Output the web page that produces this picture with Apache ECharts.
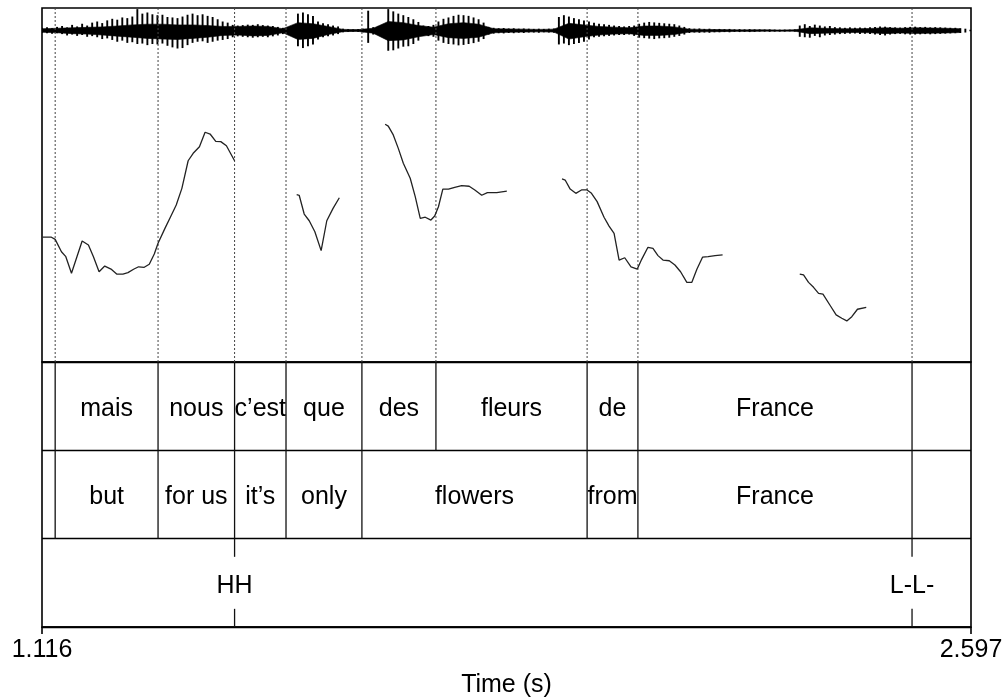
<!DOCTYPE html>
<html>
<head>
<meta charset="utf-8">
<script src="https://cdn.jsdelivr.net/npm/echarts@6/dist/echarts.min.js"></script>
<style>
  html, body { margin: 0; padding: 0; background: #fff; }
  #chart { width: 1006px; height: 699px; }
</style>
</head>
<body>
<div id="chart"></div>
<script>
// Time window of the utterance (s)
const timeMin = 1.116;
const timeMax = 2.597;

// Waveform envelope: peak amplitude (percent of full scale) every 8 ms
const waveStep = 0.008;
const waveHi = [
  12,14,10,16,20,14,25,18,30,22,
  35,40,33,45,52,48,58,55,62,95,
  75,80,72,68,70,60,58,55,62,70,
  75,68,72,65,60,50,40,35,25,22,
  24,26,25,28,24,22,20,16,12,10,
  14,75,80,72,65,40,32,28,22,18,
  8,6,5,6,8,88,15,18,20,95,
  85,75,68,60,50,38,22,20,25,40,
  52,58,65,70,68,65,58,50,35,16,
  12,10,11,9,10,8,9,8,7,8,
  7,8,9,60,68,62,55,50,45,40,
  35,30,28,25,22,20,18,20,22,30,
  35,38,36,34,32,30,28,22,16,10,
  8,9,7,8,6,7,6,7,5,6,
  5,6,5,5,4,5,4,4,4,4,
  5,22,28,20,26,22,18,20,15,14,
  12,14,12,13,12,14,16,18,17,15,
  14,13,15,16,17,15,16,14,15,14,
  13,12,12,10,8,3
];
const waveLo = [
  -10,-12,-14,-12,-16,-22,-18,-24,-20,-28,
  -25,-30,-38,-35,-42,-50,-45,-55,-52,-60,
  -58,-65,-60,-62,-58,-68,-75,-80,-78,-65,
  -55,-50,-48,-55,-50,-45,-42,-38,-30,-26,
  -28,-30,-32,-30,-28,-30,-26,-22,-16,-12,
  -18,-70,-78,-70,-62,-40,-30,-26,-22,-16,
  -8,-6,-5,-6,-8,-55,-18,-14,-22,-90,
  -88,-80,-72,-70,-60,-45,-22,-25,-28,-45,
  -55,-60,-62,-66,-64,-60,-56,-50,-38,-18,
  -14,-12,-13,-11,-12,-10,-11,-9,-9,-10,
  -8,-9,-10,-62,-58,-65,-60,-55,-50,-40,
  -30,-28,-26,-24,-22,-20,-20,-18,-24,-32,
  -34,-36,-38,-35,-34,-32,-28,-24,-18,-11,
  -9,-10,-9,-10,-8,-8,-7,-8,-6,-7,
  -6,-7,-6,-5,-5,-6,-5,-5,-5,-4,
  -5,-28,-30,-32,-24,-30,-22,-20,-18,-16,
  -15,-14,-13,-15,-14,-16,-18,-20,-22,-18,
  -16,-15,-17,-18,-18,-17,-16,-17,-16,-15,
  -14,-13,-12,-11,-9,-3
];

// Dense inner body of the waveform, every 24 ms
const coreStep = 0.024;
const coreHi = [
  8,10,12,14,16,20,25,28,28,25,
  25,22,18,18,20,18,8,35,30,18,
  5,4,10,40,35,22,15,30,35,28,
  8,7,6,5,6,32,25,18,15,12,
  20,20,16,6,5,4,3,3,3,2,
  3,12,10,8,8,9,12,10,12,11,
  10,8
];
const coreLo = [
  -8,-10,-14,-16,-20,-25,-30,-35,-38,-40,
  -35,-30,-22,-20,-24,-22,-10,-40,-35,-18,
  -5,-4,-12,-45,-42,-28,-18,-32,-35,-30,
  -10,-8,-7,-6,-7,-38,-28,-20,-16,-14,
  -22,-22,-18,-7,-6,-5,-4,-4,-3,-3,
  -3,-14,-12,-10,-9,-10,-14,-11,-13,-12,
  -11,-9
];

// F0 track (s, Hz); null separates voiced stretches
const pitchTime = [
  1.117,1.131,1.137,1.147,1.154,1.163,1.180,1.190,1.198,1.207,1.216,1.226,
  1.235,1.245,1.253,1.262,1.270,1.279,1.287,1.295,1.301,1.312,1.321,1.330,
  1.339,1.349,1.357,1.367,1.376,1.384,1.393,1.401,1.410,1.423,
  null,
  1.522,1.526,1.534,1.542,1.551,1.561,1.570,1.580,1.590,
  null,
  1.663,1.668,1.676,1.684,1.692,1.703,1.711,1.719,1.727,1.736,1.742,
  1.748,1.755,1.764,1.774,1.785,1.797,1.806,1.817,1.826,1.841,1.857,
  null,
  1.945,1.950,1.958,1.967,1.976,1.985,1.992,2.001,2.012,2.020,2.028,2.036,
  2.045,2.055,2.065,2.072,2.082,2.090,2.098,2.106,2.116,2.125,2.134,2.144,
  2.152,2.160,2.169,2.178,2.189,2.201,
  null,
  2.324,2.330,2.338,2.346,2.354,2.361,2.372,2.382,2.391,2.399,2.407,2.416,2.430
];
const pitchHz = [
  170.5,170.5,169.3,162.3,159.5,150.1,168.4,166.1,159.5,151.0,154.2,152.5,
  149.7,149.7,150.5,152.4,153.8,153.5,155.2,161.0,167.1,175.5,182.1,188.7,
  198.1,213.7,217.9,221.6,229.8,228.8,224.7,224.5,222.2,213.7,
  null,
  194.5,194.2,183.6,179.8,173.6,162.9,179.8,186.8,192.8,
  null,
  234.3,233.3,228.3,220.7,212.3,203.8,193.4,181.2,181.8,180.2,182.5,
  187.7,197.7,197.7,198.7,199.6,199.3,197.2,194.2,195.7,195.7,196.6,
  null,
  203.4,202.8,197.7,195.3,197.2,197.2,195.3,190.6,181.8,176.8,172.7,157.6,
  158.9,153.8,152.5,158.0,164.8,164.2,160.1,157.6,157.2,154.8,151.0,145.0,
  145.0,152.4,159.2,159.5,160.1,160.5,
  null,
  149.7,149.2,145.0,142.2,138.8,138.4,132.2,126.6,124.7,123.2,125.6,129.8,130.9
];
const pitchMin = 100;
const pitchMax = 300;

// TextGrid tier 1: words
const wordBounds = [1.137, 1.301, 1.423, 1.505, 1.626, 1.744, 1.985, 2.066, 2.503];
const words = ['', 'mais', 'nous', 'c\u2019est', 'que', 'des', 'fleurs', 'de', 'France', ''];

// TextGrid tier 2: gloss
const glossBounds = [1.137, 1.301, 1.423, 1.505, 1.626, 1.985, 2.066, 2.503];
const glosses = ['', 'but', 'for us', 'it\u2019s', 'only', 'flowers', 'from', 'France', ''];

// TextGrid tier 3: tones (point tier)
const toneTimes = [1.423, 2.503];
const toneLabels = ['HH', 'L-L-'];

// Axis tick labels
const timeTicks = [timeMin, timeMax];

const FONT = '"Liberation Sans", Arial, Helvetica, sans-serif';
const FONT_SIZE = 25;
const TEXT_DROP = 3;   // nudges tier labels down to sit optically centred

// ---- build series data ----
const spikeData = waveHi.map((h, i) => [timeMin + i * waveStep, h, waveLo[i]]);
const coreData = [];
for (let k = 0; k < coreHi.length - 1; k++) {
  coreData.push([timeMin + k * coreStep, coreHi[k], coreLo[k],
                 timeMin + (k + 1) * coreStep, coreHi[k + 1], coreLo[k + 1]]);
}

const pitchSeries = [];
let seg = [];
pitchTime.forEach((t, i) => {
  if (t === null) { pitchSeries.push(seg); seg = []; }
  else seg.push([t, pitchHz[i]]);
});
if (seg.length) pitchSeries.push(seg);

// interval tiers: tier index 2 = words (top), 1 = gloss, 0 = tones
function intervalLabels(bounds, labels, tier) {
  const edges = [timeMin].concat(bounds, [timeMax]);
  const out = [];
  labels.forEach((lab, i) => {
    if (lab) out.push({ value: [(edges[i] + edges[i + 1]) / 2, tier + 0.5], label: lab });
  });
  return out;
}
const textItems = intervalLabels(wordBounds, words, 2)
  .concat(intervalLabels(glossBounds, glosses, 1));

const boundaryData = wordBounds.map(t => [t, 2]).concat(glossBounds.map(t => [t, 1]));
const toneData = toneTimes.map(t => [t, 0]);

const chart = echarts.init(document.getElementById('chart'), null, { renderer: 'canvas' });

const hiddenX = (gridIndex) => ({
  type: 'value', gridIndex, min: timeMin, max: timeMax, show: false
});

const option = {
  animation: false,
  backgroundColor: '#fff',
  grid: [
    { left: 42, right: 35, top: 8, height: 45, show: false, outerBoundsMode: 'none' },
    { left: 42, right: 35, top: 8, height: 354, show: true, borderColor: '#000', borderWidth: 1.6, outerBoundsMode: 'none' },
    { left: 42, right: 35, top: 362, height: 265, show: true, borderColor: '#000', borderWidth: 1.6, outerBoundsMode: 'none' }
  ],
  xAxis: [
    hiddenX(0),
    hiddenX(1),
    {
      type: 'value', gridIndex: 2, min: timeMin, max: timeMax,
      splitLine: { show: false },
      axisLine: { show: true, onZero: false, lineStyle: { color: '#000', width: 1.6 } },
      axisTick: { show: true, inside: false, length: 7, customValues: timeTicks,
                  lineStyle: { color: '#000', width: 1.6 } },
      axisLabel: { show: true, customValues: timeTicks, margin: 11,
                   formatter: v => v.toFixed(3),
                   fontSize: FONT_SIZE, fontFamily: FONT, color: '#000',
                   showMinLabel: true, showMaxLabel: true },
      name: 'Time (s)', nameLocation: 'middle', nameGap: 46,
      nameTextStyle: { fontSize: FONT_SIZE, fontFamily: FONT, color: '#000' }
    }
  ],
  yAxis: [
    { type: 'value', gridIndex: 0, min: -100, max: 100, show: false },
    { type: 'value', gridIndex: 1, min: pitchMin, max: pitchMax, show: false },
    {
      type: 'value', gridIndex: 2, min: 0, max: 3, interval: 1,
      axisLine: { show: false }, axisTick: { show: false }, axisLabel: { show: false },
      splitLine: { show: true, lineStyle: { color: '#000', width: 1.4 } }
    }
  ],
  series: [
    // waveform body
    {
      type: 'custom', xAxisIndex: 0, yAxisIndex: 0, clip: true, silent: true,
      data: coreData,
      encode: { x: [0, 3], y: [1, 2, 4, 5] },
      renderItem(params, api) {
        const a = api.coord([api.value(0), api.value(1)]);
        const b = api.coord([api.value(3), api.value(4)]);
        const c = api.coord([api.value(3), api.value(5)]);
        const d = api.coord([api.value(0), api.value(2)]);
        return { type: 'polygon', shape: { points: [a, b, c, d] },
                 style: { fill: '#000', stroke: '#000', lineWidth: 0.6 } };
      }
    },
    // waveform peaks
    {
      type: 'custom', xAxisIndex: 0, yAxisIndex: 0, clip: true, silent: true,
      data: spikeData,
      encode: { x: 0, y: [1, 2] },
      renderItem(params, api) {
        const p1 = api.coord([api.value(0), api.value(1)]);
        const p2 = api.coord([api.value(0), api.value(2)]);
        return { type: 'line', shape: { x1: p1[0], y1: p1[1], x2: p2[0], y2: p2[1] },
                 style: { stroke: '#000', lineWidth: 1.9 } };
      }
    },
    // dotted segment boundaries through the sound/pitch panel
    {
      type: 'custom', xAxisIndex: 1, yAxisIndex: 1, silent: true,
      data: wordBounds.map(t => [t]),
      encode: { x: 0 },
      renderItem(params, api) {
        const top = api.coord([api.value(0), pitchMax]);
        const bot = api.coord([api.value(0), pitchMin]);
        return { type: 'line', shape: { x1: top[0], y1: top[1], x2: bot[0], y2: bot[1] },
                 style: { stroke: '#444', lineWidth: 1, lineDash: [2, 2] } };
      }
    },
    // F0 contour
    ...pitchSeries.map(d => ({
      type: 'line', xAxisIndex: 1, yAxisIndex: 1, data: d,
      showSymbol: false, symbol: 'none', silent: true,
      lineStyle: { color: '#222', width: 1.3 }
    })),
    // interval boundaries in the text tiers
    {
      type: 'custom', xAxisIndex: 2, yAxisIndex: 2, silent: true,
      data: boundaryData,
      encode: { x: 0, y: 1 },
      renderItem(params, api) {
        const lo = api.coord([api.value(0), api.value(1)]);
        const hi = api.coord([api.value(0), api.value(1) + 1]);
        return { type: 'line', shape: { x1: lo[0], y1: lo[1], x2: hi[0], y2: hi[1] },
                 style: { stroke: '#111', lineWidth: 1.3 } };
      }
    },
    // interval labels
    {
      type: 'custom', xAxisIndex: 2, yAxisIndex: 2, silent: true,
      data: textItems.map(d => d.value),
      encode: { x: 0, y: 1 },
      renderItem(params, api) {
        const p = api.coord([api.value(0), api.value(1)]);
        return { type: 'text', x: p[0], y: p[1] + TEXT_DROP,
                 style: { text: textItems[params.dataIndex].label,
                          align: 'center', verticalAlign: 'middle',
                          textAlign: 'center', textVerticalAlign: 'middle',
                          font: FONT_SIZE + 'px ' + FONT, fill: '#000' } };
      }
    },
    // tone points: tick marks above and below the label
    {
      type: 'custom', xAxisIndex: 2, yAxisIndex: 2, silent: true,
      data: toneData,
      encode: { x: 0, y: 1 },
      renderItem(params, api) {
        const t = api.value(0);
        const bot = api.coord([t, 0]);
        const mid = api.coord([t, 0.5]);
        const top = api.coord([t, 1]);
        const gap = 26;
        return {
          type: 'group',
          children: [
            { type: 'line', shape: { x1: top[0], y1: top[1], x2: top[0], y2: mid[1] - gap },
              style: { stroke: '#111', lineWidth: 1.3 } },
            { type: 'line', shape: { x1: bot[0], y1: mid[1] + gap, x2: bot[0], y2: bot[1] },
              style: { stroke: '#111', lineWidth: 1.3 } },
            { type: 'text', x: mid[0], y: mid[1] + TEXT_DROP,
              style: { text: toneLabels[params.dataIndex],
                       align: 'center', verticalAlign: 'middle',
                       textAlign: 'center', textVerticalAlign: 'middle',
                       font: FONT_SIZE + 'px ' + FONT, fill: '#000' } }
          ]
        };
      }
    }
  ]
};

chart.setOption(option);
</script>
</body>
</html>
